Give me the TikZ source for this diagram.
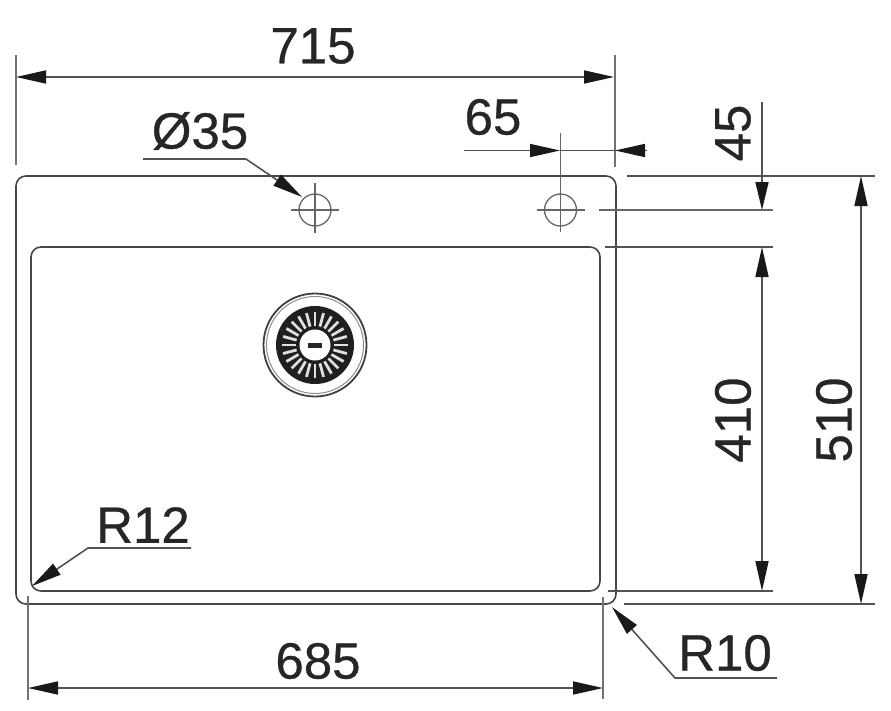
\documentclass[tikz,border=0pt]{standalone}
\usepackage{fontspec}
\setmainfont{Liberation Sans}[BoldFont=Liberation Sans, BoldFeatures={FakeBold=0.6}]
\usetikzlibrary{arrows.meta}
\tikzset{
	outline/.style={line width=1.6pt, color=black!72},
	dimline/.style={line width=1.6pt, color=black!68},
	extline/.style={line width=1.6pt, color=black!55},
	thinline/.style={line width=1.3pt, color=black!60},
	dimtip/.style={-{Triangle[length=30pt,width=13pt,color=black!90]}},
	dimtips/.style={{Triangle[length=30pt,width=13pt,color=black!90]}-{Triangle[length=30pt,width=13pt,color=black!90]}},
	dimtext/.style={font=\fontsize{51pt}{51pt}\selectfont\bfseries, color=black!85, inner sep=0pt},
}
\begin{document}
\begin{tikzpicture}[x=1pt, y=-1pt]
			%%%%% START %%%%%
			\useasboundingbox (0, 0) rectangle (891, 710);

			% sink outline and bowl
			\draw[outline, rounded corners=10pt] (16, 176) rectangle (616, 604);
			\draw[outline, rounded corners=10pt] (31, 247) rectangle (600, 591);

			% tap holes
			\foreach \holex in {315, 560.5} {
				\draw[thinline] (\holex, 210) circle (16);
				\draw[thinline] (\holex-24, 210) -- (\holex+24, 210);
			}
			\draw[thinline] (315, 183) -- (315, 233);

			% waste
			\draw[line width=1.8pt, color=black!75] (315, 345) circle (51.5);
			\draw[line width=1pt, color=black!45] (315, 345) circle (48.5);
			\fill[color=black!88] (315, 345) circle (39);
			\foreach \spoke in {0, 15, ..., 345} {
				\draw[line width=2.8pt, color=black!12] (\spoke:19) ++(315, 345) -- ++(\spoke:14);
			}
			\fill[color=white] (315, 345) circle (15.5);
			\fill[color=black!85] (307.5, 342.5) rectangle (322, 347.5);

			% extension lines
			\draw[extline] (16, 55) -- (16, 165);
			\draw[extline] (615, 55) -- (615, 167);
			\draw[thinline] (560.5, 133) -- (560.5, 232);
			\draw[dimline] (627, 176) -- (875, 176);
			\draw[thinline] (599, 210) -- (773, 210);
			\draw[dimline] (605, 247) -- (773, 247);
			\draw[dimline] (608, 591) -- (773, 591);
			\draw[dimline] (624, 604) -- (875, 604);
			\draw[extline] (28, 596) -- (28, 700);
			\draw[extline] (603, 597) -- (603, 699);

			% dimensions
			\draw[dimline, dimtips] (16, 77) -- (614, 77);
			\draw[dimline, dimtip] (464, 150.5) -- (560, 150.5);
			\draw[dimline, dimtip] (647, 150.5) -- (615, 150.5);
			\draw[dimline] (560, 150.5) -- (615, 150.5);
			\draw[dimline, -{Triangle[length=28pt,width=13pt,color=black!90]}] (762, 102) -- (762, 210);
			\draw[dimline, dimtips] (762, 247) -- (762, 591);
			\draw[dimline, dimtips] (861, 176) -- (861, 604);
			\draw[dimline, dimtips] (28, 688) -- (603, 688);

			% leaders
			\draw[dimline, dimtip] (143, 159) -- (246, 159) -- (302, 197);
			\draw[dimline, dimtip] (191, 548) -- (88, 548) -- (32, 586);
			\draw[dimline, dimtip] (777, 678) -- (675, 678) -- (612, 607);

			% labels
			\node[dimtext] (width715) at (313, 46) {715};
			\node[dimtext] (hole35) at (200, 131) {Ø35};
			\node[dimtext] (offset65) at (493, 117) {65};
			\node[dimtext, rotate=90] (offset45) at (733, 133) {45};
			\node[dimtext, rotate=90] (bowl410) at (733, 420) {410};
			\node[dimtext, rotate=90] (depth510) at (834, 420) {510};
			\node[dimtext] (radius12) at (143, 525) {R12};
			\node[dimtext] (bowl685) at (318, 661) {685};
			\node[dimtext] (radius10) at (725, 653) {R10};
			%%%%% END %%%%%
		\end{tikzpicture}
\end{document}
